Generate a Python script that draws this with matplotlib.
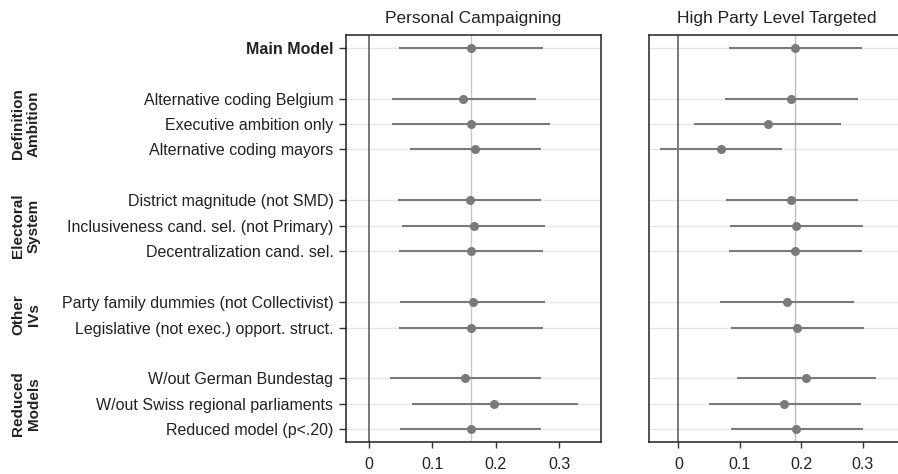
import matplotlib
matplotlib.use("Agg")
import matplotlib.pyplot as plt
import numpy as np

plt.rcParams['font.family'] = ['Liberation Sans', 'DejaVu Sans']

labels = ["Main Model", "Alternative coding Belgium", "Executive ambition only",
          "Alternative coding mayors", "District magnitude (not SMD)",
          "Inclusiveness cand. sel. (not Primary)", "Decentralization cand. sel.",
          "Party family dummies (not Collectivist)", "Legislative (not exec.) opport. struct.",
          "W/out German Bundestag", "W/out Swiss regional parliaments",
          "Reduced model (p<.20)"]
rows = [0, 2, 3, 4, 6, 7, 8, 10, 11, 13, 14, 15]

groups = ["Definition\nAmbition", "Electoral\nSystem", "Other\nIVs", "Reduced\nModels"]
group_rows = [3, 7, 10.5, 14]

titles = ["Personal Campaigning", "High Party Level Targeted"]

pc_est = [0.161, 0.149, 0.161, 0.168, 0.159, 0.165, 0.161, 0.164, 0.161, 0.152, 0.198, 0.161]
pc_lo = [0.048, 0.036, 0.036, 0.065, 0.046, 0.052, 0.048, 0.049, 0.047, 0.034, 0.068, 0.049]
pc_hi = [0.274, 0.263, 0.285, 0.272, 0.272, 0.278, 0.274, 0.277, 0.274, 0.271, 0.329, 0.272]

hp_est = [0.190, 0.183, 0.146, 0.0685, 0.183, 0.191, 0.190, 0.177, 0.193, 0.208, 0.172, 0.192]
hp_lo = [0.083, 0.075, 0.026, -0.030, 0.077, 0.084, 0.083, 0.067, 0.085, 0.096, 0.049, 0.085]
hp_hi = [0.298, 0.292, 0.265, 0.169, 0.292, 0.300, 0.298, 0.285, 0.302, 0.321, 0.297, 0.300]

xticks = [0, 0.1, 0.2, 0.3]
xtick_labels = ["0", "0.1", "0.2", "0.3"]

fig = plt.figure(figsize=(8.98, 4.74), dpi=100)
W, H = 898, 474
ax1 = fig.add_axes([346 / W, 32 / H, 255 / W, 407 / H])
ax2 = fig.add_axes([649 / W, 32 / H, 255 / W, 407 / H])

panels = [(ax1, pc_est, pc_lo, pc_hi, (-0.036, 0.366)),
          (ax2, hp_est, hp_lo, hp_hi, (-0.048, 0.367))]

grey = "#7a7a7a"
for i, (ax, est, lo, hi, xl) in enumerate(panels):
    for r in rows:
        ax.axhline(r, color="#e6e6e6", lw=1.0, zorder=0)
    ax.axvline(est[0], color="#c8c8c8" if i == 0 else "#bdbdbd", lw=1.0, zorder=1)
    ax.axvline(0, color="#555555", lw=1.1, zorder=1)
    ax.hlines(rows, lo, hi, color=grey, lw=1.5, zorder=2)
    ax.plot(est, rows, "o", color=grey, ms=6.5, mec="none", zorder=3)
    ax.set_xlim(*xl)
    ax.set_ylim(15.5, -0.5)
    ax.set_xticks(xticks)
    ax.set_xticklabels(xtick_labels)
    ax.set_title(titles[i], fontsize=12.5, pad=9, color="#222222")
    for s in ax.spines.values():
        s.set_color("#222222")
        s.set_linewidth(1.1)
    ax.tick_params(axis="x", length=4, width=1, color="#333333", labelsize=11.5,
                   labelcolor="#222222", pad=7)

ax2.spines["right"].set_visible(False)

ax1.set_yticks(rows)
ax1.set_yticklabels(labels)
ax1.tick_params(axis="y", length=5, width=1, color="#333333", labelsize=11.5,
                labelcolor="#222222", pad=4)
ax1.get_yticklabels()[0].set_fontweight("bold")
ax2.set_yticks([])

for g, gr in zip(groups, group_rows):
    yfig = ax1.transData.transform((0, gr))[1]
    fig.text(26 / W, yfig / fig.dpi / 4.74, g, rotation=90, ha="center", va="center",
             fontsize=11, fontweight="bold", color="#222222", linespacing=1.1,
             multialignment="center")

fig.savefig("out.png", dpi=100)
